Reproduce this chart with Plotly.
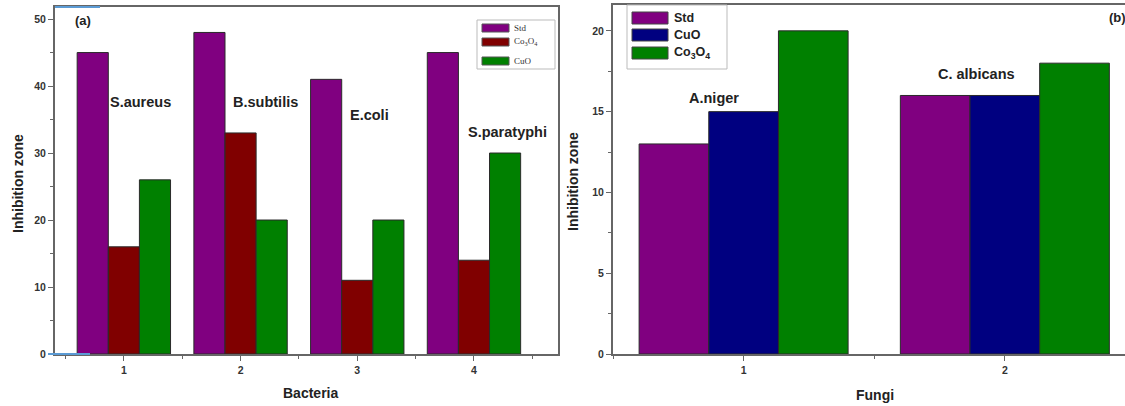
import plotly.graph_objects as go

# Antibacterial activity (panel a)
bacteria_pos = [1, 2, 3, 4]
bacteria_names = ["S.aureus", "B.subtilis", "E.coli", "S.paratyphi"]
bac_std = [45, 48, 41, 45]
bac_co3o4 = [16, 33, 11, 14]
bac_cuo = [26, 20, 20, 30]

# Antifungal activity (panel b)
fungi_pos = [1, 2]
fungi_names = ["A.niger", "C. albicans"]
fun_std = [13, 16]
fun_cuo = [15, 16]
fun_co3o4 = [20, 18]

PURPLE = "#800080"
MAROON = "#800000"
GREEN = "#008000"
NAVY = "#000080"
EDGE = "#2a2a2a"
AXIS = "#666666"
FONT = "Liberation Sans"

W, H = 1125, 406


def px(x):
    return x / W


def py(y):
    return 1 - y / H


def note(text, x, y, font, xanchor="center", **kw):
    return dict(text=text, x=px(x), y=py(y), xref="paper", yref="paper", xanchor=xanchor,
                yanchor="middle", showarrow=False, font=font, **kw)


fig = go.Figure()

bar_line = dict(color=EDGE, width=1)
fig.add_trace(go.Bar(x=bacteria_pos, y=bac_std, name="Std", marker=dict(color=PURPLE, line=bar_line),
                     xaxis="x", yaxis="y", showlegend=False))
fig.add_trace(go.Bar(x=bacteria_pos, y=bac_co3o4, name="Co3O4", marker=dict(color=MAROON, line=bar_line),
                     xaxis="x", yaxis="y", showlegend=False))
fig.add_trace(go.Bar(x=bacteria_pos, y=bac_cuo, name="CuO", marker=dict(color=GREEN, line=bar_line),
                     xaxis="x", yaxis="y", showlegend=False))

fig.add_trace(go.Bar(x=fungi_pos, y=fun_std, name="Std", marker=dict(color=PURPLE, line=bar_line),
                     xaxis="x2", yaxis="y2", showlegend=False))
fig.add_trace(go.Bar(x=fungi_pos, y=fun_cuo, name="CuO", marker=dict(color=NAVY, line=bar_line),
                     xaxis="x2", yaxis="y2", showlegend=False))
fig.add_trace(go.Bar(x=fungi_pos, y=fun_co3o4, name="Co3O4", marker=dict(color=GREEN, line=bar_line),
                     xaxis="x2", yaxis="y2", showlegend=False))

tickfont = dict(family=FONT, size=10.5, color="#333333", weight="bold")
common_axis = dict(showline=True, linecolor=AXIS, linewidth=2, ticks="outside", tickcolor=AXIS,
                   tickwidth=1, ticklen=5, showgrid=False, zeroline=False, tickfont=tickfont)

fig.update_layout(
    width=W, height=412, margin=dict(l=0, r=0, t=0, b=0),
    paper_bgcolor="white", plot_bgcolor="white",
    barmode="group", bargap=0.2, bargroupgap=0,
    showlegend=False,
    xaxis=dict(domain=[px(55), px(558)], anchor="y", range=[0.41, 4.72], tickvals=bacteria_pos,
               mirror=True, minor=dict(ticks="outside", dtick=0.5, tick0=0.5, ticklen=3, tickcolor=AXIS),
               **common_axis),
    yaxis=dict(domain=[py(354), py(7)], anchor="x", range=[0, 51.8], dtick=10, mirror=True,
               minor=dict(ticks="outside", dtick=5, ticklen=3, tickcolor=AXIS),
               **common_axis),
    xaxis2=dict(domain=[px(613), 1.0], anchor="y2", range=[0.5, 2.46], tickvals=fungi_pos,
                mirror=True, minor=dict(ticks="outside", dtick=0.5, tick0=0.5, ticklen=3, tickcolor=AXIS),
                **common_axis),
    yaxis2=dict(domain=[py(354), py(5)], anchor="x2", range=[0, 21.6], dtick=5,
                minor=dict(ticks="outside", dtick=2.5, ticklen=3, tickcolor=AXIS),
                **common_axis),
)

ann = []
shapes = []

# axis titles
title_font = dict(family=FONT, size=14, color="#222222")
ann.append(note("<b>Inhibition zone</b>", 18, 184, title_font, textangle=-90))
ann.append(note("<b>Inhibition zone</b>", 573, 182, title_font, textangle=-90))
ann.append(note("<b>Bacteria</b>", 310, 393, title_font))
ann.append(note("<b>Fungi</b>", 875, 395, title_font))

# panel labels
lab_font = dict(family=FONT, size=13, color="#222222")
ann.append(note("<b>(a)</b>", 83, 20, lab_font))
ann.append(note("<b>(b)</b>", 1107, 17, lab_font, xanchor="left"))

# organism names above each group
org_font = dict(family=FONT, size=14.5, color="#222222")
bac_label_y = [102, 102, 115, 132]
bac_label_x = [140, 265, 369, 507]
for name, xx, yy in zip(bacteria_names, bac_label_x, bac_label_y):
    ann.append(note(f"<b>{name}</b>", xx, yy, org_font))
fun_label_y = [98, 74]
fun_label_x = [714, 976]
for name, xx, yy in zip(fungi_names, fun_label_x, fun_label_y):
    ann.append(note(f"<b>{name}</b>", xx, yy, org_font))

# legend for panel a (serif, small)
shapes.append(dict(type="rect", xref="paper", yref="paper", x0=px(477), x1=px(555), y0=py(69), y1=py(20),
                   line=dict(color="#bbbbbb", width=1), fillcolor="white"))
leg_a = [("Std", PURPLE, 28), ("Co<sub>3</sub>O<sub>4</sub>", MAROON, 42), ("CuO", GREEN, 61)]
for label, col, yy in leg_a:
    shapes.append(dict(type="rect", xref="paper", yref="paper", x0=px(482), x1=px(509),
                       y0=py(yy + 4), y1=py(yy - 4), line=dict(color="#555555", width=1), fillcolor=col))
    ann.append(note(label, 512, yy, dict(family="Liberation Serif", size=9, color="#333333"), xanchor="left"))

# legend for panel b
shapes.append(dict(type="rect", xref="paper", yref="paper", x0=px(627), x1=px(727), y0=py(69), y1=py(5),
                   line=dict(color="#bbbbbb", width=1), fillcolor="white"))
leg_b = [("Std", PURPLE, 18), ("CuO", NAVY, 35), ("Co<sub>3</sub>O<sub>4</sub>", GREEN, 53)]
for label, col, yy in leg_b:
    shapes.append(dict(type="rect", xref="paper", yref="paper", x0=px(632), x1=px(668),
                       y0=py(yy + 6), y1=py(yy - 6), line=dict(color="#444444", width=1), fillcolor=col))
    ann.append(note(f"<b>{label}</b>", 672, yy, dict(family=FONT, size=12.5, color="#222222"), xanchor="left"))

# blue guide marks at the corner of panel a
shapes.append(dict(type="line", xref="paper", yref="paper", x0=px(55), x1=px(100), y0=py(7), y1=py(7),
                   line=dict(color="#5b9bd5", width=2)))
shapes.append(dict(type="line", xref="paper", yref="paper", x0=px(48), x1=px(90), y0=py(354), y1=py(354),
                   line=dict(color="#5b9bd5", width=2)))

fig.update_layout(annotations=ann, shapes=shapes)

fig.write_html("out.html")
